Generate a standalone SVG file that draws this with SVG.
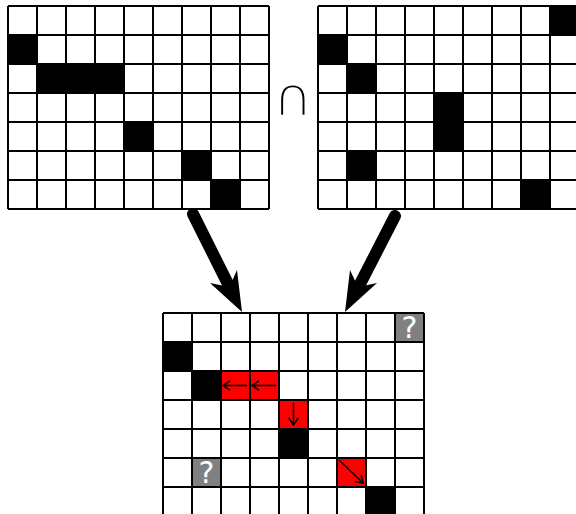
<svg xmlns="http://www.w3.org/2000/svg" width="576" height="514" viewBox="0 0 576 514">
<defs>
<style>
.bg{fill:#fff}
.blk{fill:#000}
.red{fill:#ff0000}
.unk{fill:#808080}
.grid{fill:none;stroke:#000;stroke-width:2}
.q{font-family:"DejaVu Sans",sans-serif;font-size:30px;fill:#fff;text-anchor:middle}
.cap{font-family:"DejaVu Sans",sans-serif;font-size:55px;fill:#000;stroke:#fff;stroke-width:2.6;paint-order:fill;text-anchor:middle}
.small{fill:none;stroke:#000;stroke-width:1.6;marker-end:url(#v)}
.shaft{fill:none;stroke:#000;stroke-width:12;stroke-linecap:round}
</style>
<marker id="v" viewBox="0 0 10 10" refX="9" refY="5" markerWidth="12" markerHeight="12" orient="auto" markerUnits="userSpaceOnUse">
<path d="M3,1 L9,5 L3,9" fill="none" stroke="#000" stroke-width="1.3"/>
</marker>
</defs>
<rect width="576" height="514" fill="#fff"/>

<g id="gridA">
<rect class="bg" x="8" y="6" width="261" height="203"/>
<rect class="blk" x="8" y="35" width="29" height="29"/>
<rect class="blk" x="37" y="64" width="87" height="29"/>
<rect class="blk" x="124" y="122" width="29" height="29"/>
<rect class="blk" x="182" y="151" width="29" height="29"/>
<rect class="blk" x="211" y="180" width="29" height="29"/>
<path class="grid" d="M8,6V209M37,6V209M66,6V209M95,6V209M124,6V209M153,6V209M182,6V209M211,6V209M240,6V209M269,6V209M8,6H269M8,35H269M8,64H269M8,93H269M8,122H269M8,151H269M8,180H269M8,209H269"/>
</g>

<g id="intersect">
<text class="cap" x="293" y="116">∩</text>
</g>

<g id="gridB">
<rect class="bg" x="318" y="6" width="261" height="203"/>
<rect class="blk" x="550" y="6" width="29" height="29"/>
<rect class="blk" x="318" y="35" width="29" height="29"/>
<rect class="blk" x="347" y="64" width="29" height="29"/>
<rect class="blk" x="434" y="93" width="29" height="58"/>
<rect class="blk" x="347" y="151" width="29" height="29"/>
<rect class="blk" x="521" y="180" width="29" height="29"/>
<path class="grid" d="M318,6V209M347,6V209M376,6V209M405,6V209M434,6V209M463,6V209M492,6V209M521,6V209M550,6V209M579,6V209M318,6H580M318,35H580M318,64H580M318,93H580M318,122H580M318,151H580M318,180H580M318,209H580"/>
</g>

<g id="gridC">
<rect class="bg" x="163" y="313" width="261" height="203"/>
<rect class="unk" x="395" y="313" width="29" height="29"/>
<rect class="blk" x="163" y="342" width="29" height="29"/>
<rect class="blk" x="192" y="371" width="29" height="29"/>
<rect class="red" x="221" y="371" width="58" height="29"/>
<rect class="red" x="279" y="400" width="29" height="29"/>
<rect class="blk" x="279" y="429" width="29" height="29"/>
<rect class="unk" x="192" y="458" width="29" height="29"/>
<rect class="red" x="337" y="458" width="29" height="29"/>
<rect class="blk" x="366" y="487" width="29" height="29"/>
<path class="grid" d="M163,313V516M192,313V516M221,313V516M250,313V516M279,313V516M308,313V516M337,313V516M366,313V516M395,313V516M424,313V516M163,313H424M163,342H424M163,371H424M163,400H424M163,429H424M163,458H424M163,487H424M163,516H424"/>
<path class="small" d="M247,385.5H223"/>
<path class="small" d="M276,385.5H252"/>
<path class="small" d="M293.5,403V425"/>
<path class="small" d="M339,460L363,483"/>
<text class="q" x="409.5" y="338">?</text>
<text class="q" x="206.5" y="483">?</text>
</g>

<g id="connectors">
<path class="shaft" d="M193,214L230,288"/>
<path class="blk" d="M242,312L210,283L229.5,287L237,270Z"/>
<path class="shaft" d="M395,216L358,288"/>
<path class="blk" d="M345,312L350,270L358,287L377,283Z"/>
</g>
</svg>
